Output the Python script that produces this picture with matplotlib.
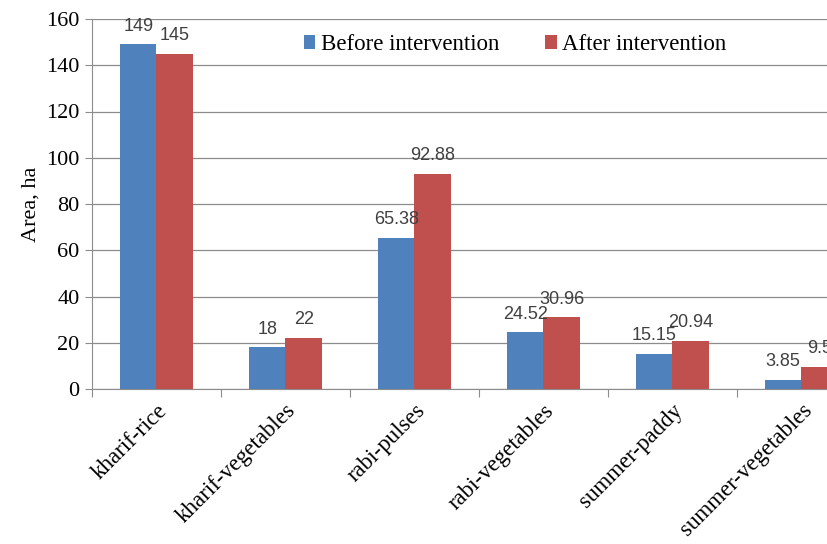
import matplotlib.pyplot as plt
import matplotlib.transforms as mtransforms
import numpy as np

# crop area per season, before and after the intervention
crops = ['kharif-rice', 'kharif-vegetables', 'rabi-pulses',
         'rabi-vegetables', 'summer-paddy', 'summer-vegetables']
before = [149, 18, 65.38, 24.52, 15.15, 3.85]
after = [145, 22, 92.88, 30.96, 20.94, 9.5]

BLUE = '#4F81BD'
RED = '#C0504D'
GRID = '#8C8C8C'
SERIF = 'Liberation Serif'

fig = plt.figure(figsize=(8.28, 5.44), dpi=100)
# axes runs past the right edge of the figure, so the last group is cut off
ax = fig.add_axes([92 / 828, 1 - 389 / 544, 774 / 828, 370 / 544])

x = np.arange(len(crops))
w = 0.283
b1 = ax.bar(x - w / 2, before, w, color=BLUE, label='Before intervention')
b2 = ax.bar(x + w / 2, after, w, color=RED, label='After intervention')

for bars, vals in ((b1, before), (b2, after)):
    for rect, v in zip(bars, vals):
        ax.annotate(f'{v:g}', (rect.get_x() + rect.get_width() / 2, v),
                    xytext=(0, 7), textcoords='offset points',
                    ha='center', va='bottom', fontsize=13,
                    color='#404040', family='Liberation Sans',
                    annotation_clip=False)

ax.set_xlim(-0.5, len(crops) - 0.5)
ax.set_ylim(0, 160)
ax.set_yticks(range(0, 161, 20))
ax.yaxis.grid(True, color=GRID, linewidth=0.9)
ax.set_axisbelow(True)

# category ticks sit on the group boundaries
ax.set_xticks(np.arange(len(crops) + 1) - 0.5)
ax.set_xticklabels([])
ax.set_xticks(x, minor=True)
ax.set_xticklabels(crops, minor=True, rotation=45, ha='right',
                   rotation_mode='anchor', family=SERIF, fontsize=16.5)
shift = mtransforms.ScaledTranslation(18 / 100, -10 / 100, fig.dpi_scale_trans)
for lab in ax.get_xticklabels(minor=True):
    lab.set_transform(lab.get_transform() + shift)
ax.tick_params(axis='x', which='major', length=6, color=GRID)
ax.tick_params(axis='x', which='minor', length=0, pad=8)
ax.tick_params(axis='y', length=5, color=GRID, labelsize=16, pad=4)
for lab in ax.get_yticklabels():
    lab.set_family(SERIF)

for side in ('top', 'right'):
    ax.spines[side].set_visible(False)
for side in ('left', 'bottom'):
    ax.spines[side].set_color(GRID)

ax.set_ylabel('Area, ha', family=SERIF, fontsize=16, labelpad=4)

ax.legend(loc='upper left', bbox_to_anchor=(0.247, 1.015), ncol=2,
          frameon=False, handlelength=0.5, handleheight=0.55,
          handletextpad=0.25, columnspacing=2.0,
          prop={'family': SERIF, 'size': 16.5})

fig.savefig('out.png', dpi=100)
